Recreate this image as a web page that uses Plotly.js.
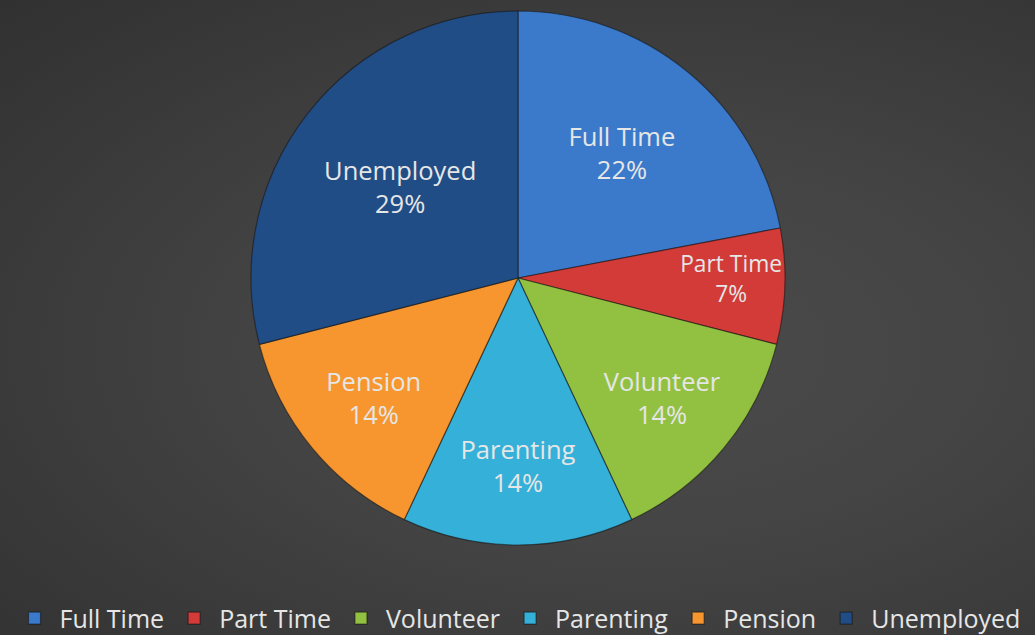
<!DOCTYPE html>
<html>
<head>
<meta charset="utf-8">
<script src="https://cdn.plot.ly/plotly-3.0.1.min.js"></script>
<style>
html, body { margin: 0; padding: 0; }
body {
  width: 1035px; height: 635px; overflow: hidden;
  background: radial-gradient(ellipse at 62% 55%, #4b4b4b 0%, #444444 40%, #373737 80%, #313131 100%);
}
#chart { width: 1035px; height: 635px; }
</style>
</head>
<body>
<div id="chart"></div>
<script>
const categories = ["Full Time", "Part Time", "Volunteer", "Parenting", "Pension", "Unemployed"];
const values = [22, 7, 14, 14, 14, 29];
const colors = ["#3b7acb", "#d23b38", "#92c142", "#35b0d8", "#f7962f", "#214d86"];

const trace = {
  type: "pie",
  labels: categories,
  values: values,
  sort: false,
  direction: "clockwise",
  rotation: 0,
  marker: { colors: colors, line: { color: "rgba(20,20,20,0.55)", width: 1.2 } },
  texttemplate: "%{label}<br>%{percent:.0%}",
  textposition: "inside",
  insidetextorientation: "horizontal",
  textfont: { family: "Open Sans, Noto Sans, sans-serif", size: 25.5, color: "#e6e6e6" },
  domain: { x: [251/1035, 785/1035], y: [90/635, 624/635] },
  hoverinfo: "none"
};

const layout = {
  width: 1035, height: 635,
  margin: { l: 0, r: 0, t: 0, b: 0, autoexpand: false },
  paper_bgcolor: "rgba(0,0,0,0)",
  plot_bgcolor: "rgba(0,0,0,0)",
  showlegend: true,
  legend: {
    orientation: "h",
    x: 0.5, xanchor: "center",
    y: -0.01, yanchor: "bottom",
    font: { family: "Open Sans, Noto Sans, sans-serif", size: 25, color: "#e6e6e6" },
    itemwidth: 40,
    traceorder: "normal"
  }
};

Plotly.newPlot("chart", [trace], layout, { displayModeBar: false, staticPlot: true });
</script>
</body>
</html>
